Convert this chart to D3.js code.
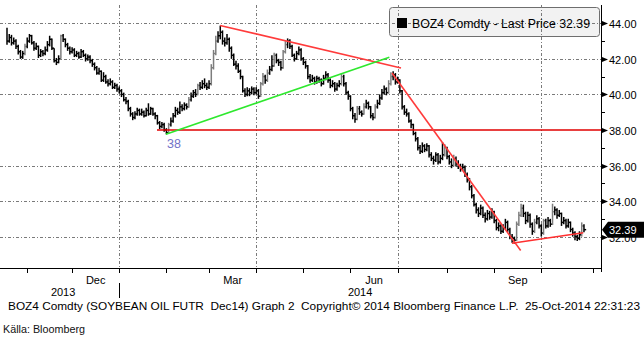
<!DOCTYPE html>
<html><head><meta charset="utf-8">
<script src="https://cdn.jsdelivr.net/npm/d3@7/dist/d3.min.js"></script>
<style>body{margin:0;background:#fff}svg{display:block}text{font-family:"Liberation Sans",Arial,sans-serif}</style>
</head><body>
<script>
// ---- data (bar index = trading day from 21-Oct-2013) ----
const closes = [
43.0,43.2,42.9,43.0,42.7,42.4,42.1,42.3,42.7,43.0,
43.3,42.9,42.6,42.7,42.2,42.4,42.3,42.5,42.8,43.1,
42.6,41.9,41.8,42.0,43.3,43.1,42.8,42.6,42.4,42.5,
42.2,42.3,42.1,42.4,42.2,42.0,42.1,41.9,41.7,41.5,
41.2,41.3,40.8,41.0,40.7,40.6,40.7,40.4,40.5,40.3,
40.2,40.0,39.7,39.6,39.2,38.9,38.7,38.9,39.1,38.9,
39.0,38.8,39.1,38.9,39.2,38.9,38.8,38.4,38.2,38.3,
38.0,37.85,38.3,38.5,38.8,39.1,39.0,39.3,39.2,39.4,
39.3,39.7,39.9,40.1,40.0,40.5,40.4,40.6,40.5,40.4,
40.6,41.5,42.3,43.0,43.3,43.5,43.0,42.9,43.1,42.6,
42.2,41.7,41.6,41.3,41.0,40.2,40.0,40.2,40.1,40.3,
40.1,40.2,39.9,40.6,41.0,40.8,41.2,41.4,41.6,42.2,
41.9,41.8,41.5,42.4,42.8,43.0,42.7,42.2,42.0,42.3,
42.5,42.0,41.8,41.6,41.0,40.8,40.9,40.7,40.9,40.8,
40.6,40.9,41.1,40.8,40.5,40.6,40.3,40.5,40.6,41.0,
40.6,40.1,39.9,39.2,38.8,38.6,39.2,39.0,38.9,39.3,
39.5,39.3,38.8,38.7,39.3,39.5,39.8,40.1,40.3,40.1,
40.6,41.0,41.1,40.7,40.8,40.2,39.3,39.0,38.9,38.5,
38.3,37.8,37.5,37.0,36.8,37.1,36.9,37.1,36.6,36.4,
36.3,36.6,36.2,36.4,36.6,37.0,36.5,36.2,36.0,36.4,
36.1,36.0,35.8,35.9,35.5,35.2,34.8,34.3,33.8,33.5,
33.3,33.6,33.2,33.0,33.3,33.1,33.4,32.9,32.5,32.6,
32.3,32.5,32.8,32.4,32.0,31.9,31.8,32.7,33.2,33.6,
33.3,32.9,33.2,32.7,32.3,32.8,33.0,32.6,32.2,32.9,
32.6,32.9,32.7,33.4,33.5,33.2,33.3,32.8,32.9,32.6,
32.8,32.4,32.2,32.0,31.9,32.1,32.6,32.39];
const highs = [
43.75,43.4,43.35,43.2,43.1,42.8,42.5,42.45,42.85,43.2,
43.4,43.35,43.0,42.9,42.75,42.55,42.5,42.7,43.0,43.3,
43.15,42.6,42.05,42.2,43.35,43.4,43.15,42.9,42.7,42.65,
42.6,42.45,42.4,42.55,42.5,42.3,42.25,42.2,42.0,41.8,
41.6,41.5,41.35,41.25,41.1,40.85,40.9,40.8,40.65,40.6,
40.45,40.3,40.1,39.85,39.7,39.3,39.0,39.05,39.25,39.2,
39.2,39.1,39.25,39.5,39.3,39.25,39.0,38.85,38.5,38.45,
38.4,38.1,38.4,38.7,38.95,39.3,39.25,39.6,39.45,39.55,
39.5,39.85,40.1,40.25,40.3,40.6,40.7,40.8,40.9,40.65,
40.8,41.7,42.5,43.3,43.55,43.87,43.6,43.2,43.4,43.2,
42.7,42.3,41.9,41.75,41.4,41.05,40.35,40.4,40.35,40.45,
40.4,40.4,40.3,40.7,41.2,41.1,41.4,41.6,42.2,42.35,
42.3,42.0,41.9,42.5,43.0,43.15,43.1,42.8,42.3,42.45,
42.7,42.6,42.1,41.9,41.65,41.15,41.1,41.0,41.05,41.0,
40.9,41.1,41.3,41.2,40.9,40.8,40.7,40.65,40.8,41.2,
41.1,40.7,40.2,39.95,39.3,38.95,39.35,39.35,39.1,39.5,
39.7,39.6,39.35,38.95,39.45,39.7,40.0,40.3,40.5,40.4,
40.8,41.25,41.3,41.2,41.0,40.85,40.25,39.4,39.2,39.0,
38.6,38.35,37.9,37.6,37.15,37.3,37.2,37.25,37.15,36.75,
36.55,36.75,36.7,36.6,37.3,37.2,37.05,36.6,36.4,36.6,
36.5,36.3,36.1,36.1,36.0,35.6,35.3,34.9,34.4,33.9,
33.65,33.8,33.7,33.35,33.5,33.45,33.6,33.45,33.0,32.8,
32.7,32.7,33.0,32.9,32.5,32.15,32.0,32.85,33.4,33.85,
33.8,33.4,33.4,33.3,32.8,33.0,33.2,33.1,32.7,33.0,
33.0,33.1,33.0,33.85,33.7,33.6,33.5,33.35,33.1,33.0,
33.0,32.85,32.5,32.3,32.1,32.3,32.8,32.7];
const lows = [
42.8,42.9,42.75,42.8,42.55,42.25,42.0,42.0,42.2,42.6,
42.9,42.8,42.45,42.5,42.05,42.1,42.15,42.2,42.4,42.7,
42.5,41.8,41.65,41.75,42.0,42.95,42.65,42.45,42.25,42.3,
42.1,42.1,42.0,42.05,42.1,41.85,41.9,41.75,41.55,41.35,
41.1,41.1,40.7,40.7,40.6,40.45,40.5,40.3,40.3,40.15,
40.05,39.85,39.6,39.45,39.05,38.75,38.55,38.6,38.8,38.8,
38.8,38.7,38.75,38.8,38.85,38.8,38.6,38.3,38.05,38.1,
37.9,37.75,37.8,38.2,38.4,38.7,38.85,38.9,39.05,39.1,
39.15,39.25,39.6,39.8,39.85,39.95,40.25,40.3,40.35,40.25,
40.3,40.5,41.4,42.2,42.9,43.1,42.8,42.7,42.8,42.4,
42.0,41.6,41.4,41.2,40.85,40.1,39.85,39.9,39.9,40.0,
39.95,40.0,39.75,39.85,40.5,40.6,40.7,41.1,41.3,41.55,
41.75,41.6,41.35,41.45,42.3,42.6,42.55,42.1,41.85,41.95,
42.2,41.9,41.65,41.45,40.85,40.65,40.7,40.55,40.6,40.65,
40.45,40.55,40.8,40.65,40.35,40.4,40.15,40.2,40.4,40.5,
40.45,40.0,39.7,39.05,38.6,38.4,38.55,38.85,38.75,38.85,
39.2,39.15,38.65,38.55,38.65,39.2,39.4,39.7,40.0,39.95,
40.05,40.5,40.8,40.55,40.6,40.05,39.15,38.85,38.75,38.4,
38.1,37.7,37.35,36.85,36.65,36.7,36.75,36.8,36.45,36.25,
36.05,36.2,36.05,36.1,36.3,36.5,36.35,36.05,35.85,35.95,
35.95,35.8,35.65,35.7,35.35,35.05,34.6,34.15,33.7,33.3,
33.1,33.2,33.05,32.8,32.9,32.95,33.0,32.75,32.35,32.3,
32.15,32.2,32.4,32.25,31.85,31.65,31.6,31.75,32.6,33.1,
33.1,32.7,32.8,32.5,32.1,32.2,32.7,32.45,32.0,32.1,
32.45,32.5,32.55,32.65,33.2,33.0,33.1,32.6,32.7,32.45,
32.5,32.25,32.0,31.8,31.75,31.8,32.0,32.25];

const yTicks = [32,34,36,38,40,42,44];
const yMinor = [33,35,37,39,41,43];
const monthStarts = [9,29,50,71,90,111,132,153,174,196,217,238,261];
const quarterStarts = [50,111,174,238];
const monthLabels = [["Dec",29,50],["Mar",90,111],["Jun",153,174],["Sep",217,238]];
const yearLabels = [["2013",0,50],["2014",50,null]];
const lastPrice = 32.39;
const supportLevel = 38, supportFrom = 66.8;
const trendLines = [
  {a:[94.9,43.88], b:[175.5,41.49], color:"#ff3b3b"},
  {a:[70.8,37.76], b:[170.3,42.09], color:"#2ee82e"},
  {a:[171.5,41.2], b:[228.8,31.22], color:"#ff3b3b"},
  {a:[224.9,31.63], b:[256.7,32.22], color:"#ff3030"}
];
const legendText = "BOZ4 Comdty - Last Price 32.39";
const footerText = "BOZ4 Comdty (SOYBEAN OIL FUTR  Dec14) Graph 2  Copyright\u00A9 2014 Bloomberg Finance L.P.  25-Oct-2014 22:31:23";
const sourceText = "Källa: Bloomberg";

// ---- layout ----
const W = 644, H = 340;
const plotL = 0, plotR = 601, plotT = 5, plotB = 268;
const x = d3.scaleLinear().domain([0, 257]).range([7, 7 + 257*2.245]);
const y = d3.scaleLinear().domain([32, 44]).range([236.6, 23.3]);

const svg = d3.select("body").append("svg").attr("width", W).attr("height", H);
svg.append("defs").append("clipPath").attr("id","clip")
  .append("rect").attr("x",plotL).attr("y",plotT).attr("width",plotR-plotL).attr("height",plotB-plotT);

// legend box (under gridlines)
svg.append("rect").attr("x",389.5).attr("y",7.5).attr("width",210).attr("height",29).attr("rx",3)
  .attr("fill","#f2f2f2").attr("stroke","#6e6e6e");

// gridlines
const grid = svg.append("g").attr("stroke","#7a7a7a").attr("stroke-width",1).attr("stroke-dasharray","3,2,1,2");
grid.selectAll("line.h").data(yTicks.filter(v=>v!==supportLevel)).join("line")
  .attr("x1",plotL).attr("x2",plotR).attr("y1",d=>Math.round(y(d))+0.5).attr("y2",d=>Math.round(y(d))+0.5);
grid.selectAll("line.v").data(quarterStarts).join("line")
  .attr("x1",d=>Math.round(x(d))+0.5).attr("x2",d=>Math.round(x(d))+0.5).attr("y1",plotT).attr("y2",plotB);

// legend content
svg.append("rect").attr("x",397).attr("y",18).attr("width",10).attr("height",10).attr("fill","#000");
svg.append("text").attr("x",412).attr("y",27.5).attr("font-size",12).attr("fill","#000")
  .attr("textLength",178).attr("lengthAdjust","spacingAndGlyphs").text(legendText);

// bars
const plot = svg.append("g").attr("clip-path","url(#clip)");
const bars = plot.append("g");
closes.forEach((c,i)=>{
  const up = i>0 && c - closes[i-1] > 0.35;
  const col = up ? "#7d7d7d" : "#000";
  const xi = x(i);
  bars.append("line").attr("x1",xi).attr("x2",xi).attr("y1",y(highs[i])).attr("y2",y(lows[i]))
    .attr("stroke",col).attr("stroke-width",1.5);
  bars.append("line").attr("x1",xi).attr("x2",xi+2.2).attr("y1",y(c)).attr("y2",y(c))
    .attr("stroke",col).attr("stroke-width",1.5);
});

// support line
plot.append("line").attr("x1",x(supportFrom)).attr("x2",plotR).attr("y1",y(supportLevel)).attr("y2",y(supportLevel))
  .attr("stroke","#e00000").attr("stroke-width",1.5);
// trend lines
plot.selectAll("line.t").data(trendLines).join("line")
  .attr("x1",d=>x(d.a[0])).attr("y1",d=>y(d.a[1])).attr("x2",d=>x(d.b[0])).attr("y2",d=>y(d.b[1]))
  .attr("stroke",d=>d.color).attr("stroke-width",1.6);

// "38" annotation
svg.append("text").attr("x",x(74.4)).attr("y",y(37.0)).attr("text-anchor","middle")
  .attr("font-size",12.5).attr("fill","#7272c8").text(String(supportLevel));

// axes lines
svg.append("line").attr("x1",0).attr("x2",plotR+0.5).attr("y1",plotB+0.5).attr("y2",plotB+0.5).attr("stroke","#000");
svg.append("line").attr("x1",plotR+0.5).attr("x2",plotR+0.5).attr("y1",plotT).attr("y2",plotB+4).attr("stroke","#000");

// y ticks
const ya = svg.append("g");
yMinor.forEach(v=>{
  ya.append("line").attr("x1",plotR).attr("x2",plotR+4).attr("y1",Math.round(y(v))+0.5).attr("y2",Math.round(y(v))+0.5).attr("stroke","#000");
});
yTicks.forEach(v=>{
  const yy = Math.round(y(v))+0.5;
  ya.append("path").attr("d",`M${plotR+1},${yy-2.5}L${plotR+7},${yy}L${plotR+1},${yy+2.5}Z`).attr("fill","#000");
  ya.append("text").attr("x",609).attr("y",yy+4).attr("font-size",11).attr("fill","#000").text(v.toFixed(2));
});
// last price tag (covers the 32.00 label, as in the reference)
const ly = y(lastPrice);
svg.append("path").attr("d",`M${plotR+1},${ly}L${plotR+7},${ly-8}L644,${ly-8}L644,${ly+8}L${plotR+7},${ly+8}Z`).attr("fill","#000");
svg.append("text").attr("x",609).attr("y",ly+4).attr("font-size",11).attr("fill","#fff").text(lastPrice.toFixed(2));

// x ticks
const xa = svg.append("g");
monthStarts.forEach(m=>{
  const xx = Math.round(x(m))+0.5;
  if (xx < plotR) xa.append("line").attr("x1",xx).attr("x2",xx).attr("y1",plotB).attr("y2",plotB+5).attr("stroke","#000");
});
monthLabels.forEach(([t,a,b])=>{
  xa.append("text").attr("x",(x(a)+x(b))/2).attr("y",284).attr("text-anchor","middle").attr("font-size",11).text(t);
});
yearLabels.forEach(([t,a,b])=>{
  const xa0 = x(a);
  const xb = b===null ? plotR : x(b);
  xa.append("text").attr("x",(xa0+xb)/2).attr("y",296).attr("text-anchor","middle").attr("font-size",11).text(t);
});
xa.append("line").attr("x1",Math.round(x(50))+0.5).attr("x2",Math.round(x(50))+0.5).attr("y1",283).attr("y2",298).attr("stroke","#000");

// footer
svg.append("text").attr("x",8).attr("y",310).attr("font-size",11).style("white-space","pre")
  .attr("textLength",632).attr("lengthAdjust","spacingAndGlyphs").text(footerText);
svg.append("text").attr("x",3).attr("y",333).attr("font-size",11).attr("fill","#111")
  .attr("textLength",82).attr("lengthAdjust","spacingAndGlyphs").text(sourceText);
</script>
</body></html>
